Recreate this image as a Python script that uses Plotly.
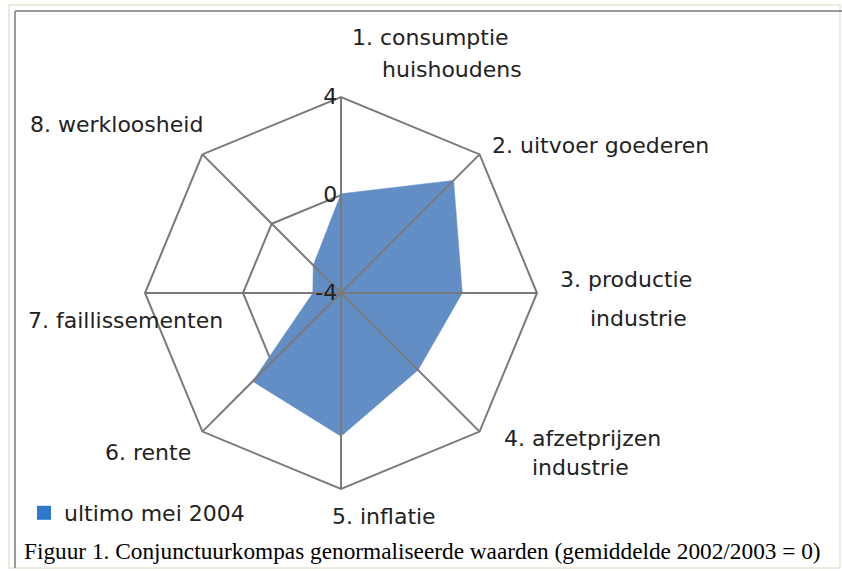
import plotly.graph_objects as go

categories = ["1. consumptie huishoudens", "2. uitvoer goederen", "3. productie industrie",
              "4. afzetprijzen industrie", "5. inflatie", "6. rente",
              "7. faillissementen", "8. werkloosheid"]
values = [0.05, 2.5, 0.95, 0.45, 1.85, 1.1, -2.85, -2.4]
series_name = "ultimo mei 2004"
radial_ticks = [-4, 0, 4]
caption = "Figuur 1. Conjunctuurkompas genormaliseerde waarden (gemiddelde 2002/2003 = 0)"

W, H = 842, 571
R_MIN, R_MAX = -4, 4
GRID = "#7a7a7a"
LABEL_FONT = dict(size=22, family="DejaVu Sans", color="#222222")

def px(x):
    return x / W

def py(y):
    return 1 - y / H

fig = go.Figure()

fig.add_trace(go.Scatterpolar(
    r=values + values[:1], theta=categories + categories[:1],
    mode="lines", fill="toself", fillcolor="#628DC5",
    line=dict(color="#628DC5", width=0.5), showlegend=False, hoverinfo="skip"))

# spokes drawn above fill
for c in categories:
    fig.add_trace(go.Scatterpolar(r=[R_MIN, R_MAX], theta=[c, c], mode="lines",
                                  line=dict(color=GRID, width=2), showlegend=False,
                                  hoverinfo="skip"))

# legend entry
fig.add_trace(go.Scatterpolar(r=[None], theta=[categories[0]], mode="markers",
                              marker=dict(symbol="square", size=14, color="#2E78CC"),
                              name=series_name))

fig.update_layout(
    width=W, height=H,
    margin=dict(l=0, r=0, t=0, b=0),
    paper_bgcolor="white",
    font=LABEL_FONT,
    polar=dict(
        domain=dict(x=[px(145), px(537)], y=[py(489), py(97)]),
        bgcolor="rgba(0,0,0,0)",
        gridshape="linear",
        radialaxis=dict(range=[R_MIN, R_MAX], tickvals=radial_ticks,
                        ticktext=[str(t) for t in radial_ticks],
                        showgrid=True, gridcolor=GRID, gridwidth=2,
                        showline=False, ticks="", angle=90, tickangle=90,
                        side="counterclockwise",
                        tickfont=LABEL_FONT),
        angularaxis=dict(rotation=90, direction="clockwise", showticklabels=False,
                         ticks="", showgrid=False, showline=True,
                         linecolor=GRID, linewidth=2),
    ),
    legend=dict(x=px(24), y=py(513), xanchor="left", yanchor="middle",
                font=LABEL_FONT, bgcolor="rgba(0,0,0,0)", itemwidth=30),
)

label_lines = [
    ("1. consumptie", 350, 38), ("huishoudens", 380, 70),
    ("2. uitvoer goederen", 490, 145),
    ("3. productie", 558, 280), ("industrie", 588, 318),
    ("4. afzetprijzen", 502, 438), ("industrie", 530, 467),
    ("5. inflatie", 330, 516),
    ("6. rente", 103, 452),
    ("7. faillissementen", 26, 320),
    ("8. werkloosheid", 28, 125),
]
for text, x, y in label_lines:
    fig.add_annotation(text=text, x=px(x), y=py(y), xref="paper", yref="paper",
                       xanchor="left", yanchor="middle", showarrow=False,
                       font=LABEL_FONT)

fig.add_annotation(text=caption, x=px(22), y=py(551), xref="paper", yref="paper",
                   xanchor="left", yanchor="middle", showarrow=False,
                   font=dict(size=23.3, family="Liberation Serif", color="#000"))

fig.add_shape(type="rect", xref="paper", yref="paper",
              x0=px(9), x1=px(840), y0=py(568), y1=py(5),
              line=dict(color="#EEEBDD", width=2))
fig.add_shape(type="line", xref="paper", yref="paper",
              x0=px(15), x1=px(842), y0=py(11), y1=py(11),
              line=dict(color="#9a9a9a", width=2))
fig.add_shape(type="line", xref="paper", yref="paper",
              x0=px(15), x1=px(15), y0=py(11), y1=py(568),
              line=dict(color="#9a9a9a", width=2))

fig.write_html("out.html", config={"displayModeBar": False},
               post_script="document.body.style.margin='0px';")
